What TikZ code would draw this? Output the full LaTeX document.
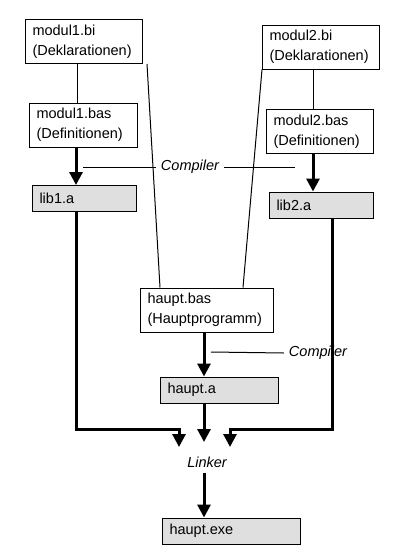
\documentclass[tikz,border=0pt]{standalone}
\usepackage{fontspec}
\setmainfont{Liberation Sans}
\usetikzlibrary{arrows.meta}
\tikzstyle{source} = [rectangle, draw=black, line width=1pt, inner xsep=7pt, align=left, minimum height=44pt]
\tikzstyle{library} = [rectangle, draw=black, fill=gray!25, line width=1pt, inner xsep=7pt, align=left, minimum height=26pt]
\tikzstyle{tool} = [font=\fontsize{14.5}{20}\selectfont\itshape, inner xsep=5pt, inner ysep=1pt]
\tikzstyle{arrow} = [line width=3pt, -{Triangle[width=13pt,length=13pt]}]
\tikzstyle{link} = [line width=1pt]

\begin{document}
\begin{tikzpicture}[x=1pt,y=-1pt,every node/.style={font=\fontsize{14.5}{20}\selectfont}]
    \useasboundingbox (0,0) rectangle (404,554);

    % Nodes
    \node[source, text width=103pt] (mod1bi) at (84,41.5) {modul1.bi\\(Deklarationen)};
    \node[source, text width=103pt] (mod2bi) at (321,47) {modul2.bi\\(Deklarationen)};
    \node[source, text width=94pt] (mod1bas) at (83.5,125) {modul1.bas\\(Definitionen)};
    \node[source, text width=93pt] (mod2bas) at (320,131.5) {modul2.bas\\(Definitionen)};
    \node[library, text width=90pt] (lib1) at (84.5,198.5) {lib1.a};
    \node[library, text width=90pt] (lib2) at (321.5,205) {lib2.a};
    \node[source, text width=119pt] (hauptbas) at (207,310) {haupt.bas\\(Hauptprogramm)};
    \node[library, text width=104pt] (haupta) at (219.5,390) {haupt.a};
    \node[library, text width=124pt] (hauptexe) at (231.5,531) {haupt.exe};

    \node[tool] (comp1) at (190,167) {Compiler};
    \node[tool] (comp2) at (318,353) {Compiler};
    \node[tool] (linker) at (207,462) {Linker};

    \coordinate (comp1l) at (83,167);
    \coordinate (comp1r) at (295,167);
    \coordinate (comp2l) at (211,352);
    \coordinate (link1) at (179,447);
    \coordinate (link2) at (204,442);
    \coordinate (link3) at (230,447);

    % Includes
    \draw[link] ([xshift=-7pt]mod1bi.south) -- ([xshift=-7pt]mod1bi.south |- mod1bas.north);
    \draw[link] ([xshift=-8pt]mod2bi.south) -- ([xshift=-8pt]mod2bi.south |- mod2bas.north);
    \draw[link] ([xshift=4pt]mod1bi.south east) -- ([xshift=20pt]hauptbas.north west);
    \draw[link] (mod2bi.south west) -- ([xshift=-31pt]hauptbas.north east);

    % Compiler
    \draw[arrow] ([xshift=-7.5pt]mod1bas.south) -- ([xshift=-7.5pt]mod1bas.south |- lib1.north);
    \draw[arrow] ([xshift=-7pt]mod2bas.south) -- ([xshift=-7pt]mod2bas.south |- lib2.north);
    \draw[arrow] ([xshift=-3pt]hauptbas.south) -- ([xshift=-3pt]hauptbas.south |- haupta.north);
    \draw[link] (comp1l) -- (comp1.west);
    \draw[link] (comp1.east) -- (comp1r);
    \draw[link] (comp2l) -- (comp2.west);

    % Linker
    \draw[arrow] ([xshift=-8.5pt]lib1.south) |- ([yshift=18pt]link1) -- (link1);
    \draw[arrow] ([xshift=10.5pt]lib2.south) |- ([yshift=18pt]link3) -- (link3);
    \draw[arrow] (haupta.south -| link2) -- (link2);
    \draw[arrow] ([xshift=-3pt,yshift=-4pt]linker.south) -- ([xshift=-3pt]linker.south |- hauptexe.north);

\end{tikzpicture}
\end{document}
